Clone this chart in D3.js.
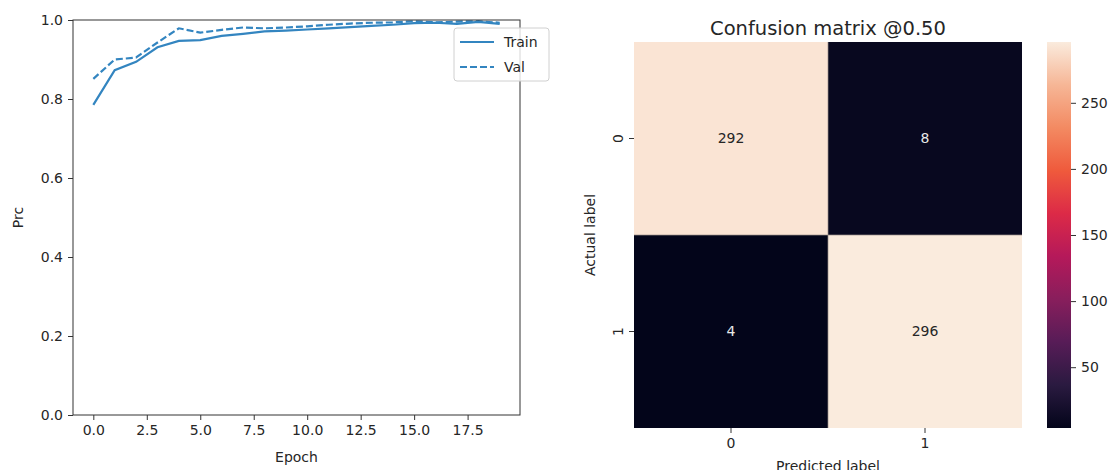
<!DOCTYPE html>
<html>
<head>
<meta charset="utf-8">
<script src="https://cdn.jsdelivr.net/npm/d3@7"></script>
<style>
  body { margin: 0; background: #fff; }
  svg { font-family: "DejaVu Sans", sans-serif; }
</style>
</head>
<body>
<div id="chart"></div>
<script>
// Precision per epoch
const epochs = d3.range(20);
const trainPrc = [0.785, 0.873, 0.894, 0.931, 0.947, 0.949, 0.960, 0.965, 0.971, 0.973,
                  0.976, 0.979, 0.982, 0.985, 0.988, 0.992, 0.993, 0.990, 0.995, 0.990];
const valPrc = [0.851, 0.900, 0.905, 0.943, 0.979, 0.968, 0.975, 0.981, 0.979, 0.981,
                0.984, 0.988, 0.991, 0.993, 0.994, 0.997, 0.994, 0.996, 0.997, 0.993];
const xTicks = [0, 2.5, 5, 7.5, 10, 12.5, 15, 17.5];
const yTicks = [0, 0.2, 0.4, 0.6, 0.8, 1.0];

// Confusion matrix
const classLabels = ['0', '1'];
const matrix = [[292, 8], [4, 296]];
const cbarTicks = [50, 100, 150, 200, 250];

const textColor = '#262626';
const lineColor = '#3385c0';

const svg = d3.select('#chart').append('svg')
    .attr('width', 1114)
    .attr('height', 470);

// ---- Left: precision curves ----
const left = { x0: 73, x1: 520, y0: 20, y1: 415 };

const x = d3.scaleLinear().domain([-0.95, 19.95]).range([left.x0, left.x1]);
const y = d3.scaleLinear().domain([0, 1]).range([left.y1, left.y0]);

const line = d3.line().x((d, i) => x(epochs[i])).y(d => y(d));

svg.append('path')
    .datum(trainPrc)
    .attr('fill', 'none')
    .attr('stroke', lineColor)
    .attr('stroke-width', 2.2)
    .attr('d', line);

svg.append('path')
    .datum(valPrc)
    .attr('fill', 'none')
    .attr('stroke', lineColor)
    .attr('stroke-width', 2.2)
    .attr('stroke-dasharray', '7,3')
    .attr('d', line);

// frame
svg.append('rect')
    .attr('x', left.x0).attr('y', left.y0)
    .attr('width', left.x1 - left.x0).attr('height', left.y1 - left.y0)
    .attr('fill', 'none').attr('stroke', '#333').attr('stroke-width', 1);

const xAxis = svg.append('g')
    .attr('transform', `translate(0,${left.y1})`)
    .call(d3.axisBottom(x).tickValues(xTicks).tickFormat(d3.format('.1f')).tickSize(5).tickPadding(5));
const yAxis = svg.append('g')
    .attr('transform', `translate(${left.x0},0)`)
    .call(d3.axisLeft(y).tickValues(yTicks).tickFormat(d3.format('.1f')).tickSize(5).tickPadding(5));

[xAxis, yAxis].forEach(a => {
    a.select('.domain').remove();
    a.selectAll('line').attr('stroke', '#333');
    a.selectAll('text').attr('fill', textColor).style('font-size', '14px').style('font-family', '"DejaVu Sans"');
});

svg.append('text')
    .attr('x', (left.x0 + left.x1) / 2).attr('y', 462)
    .attr('text-anchor', 'middle').attr('fill', textColor).style('font-size', '14px')
    .text('Epoch');

svg.append('text')
    .attr('transform', `translate(23,${(left.y0 + left.y1) / 2}) rotate(-90)`)
    .attr('text-anchor', 'middle').attr('fill', textColor).style('font-size', '14px')
    .text('Prc');

// legend
const lg = svg.append('g').attr('transform', 'translate(454,28)');
lg.append('rect')
    .attr('width', 95).attr('height', 53).attr('rx', 3)
    .attr('fill', '#fff').attr('fill-opacity', 0.8)
    .attr('stroke', '#d0d0d0');
[['Train', null], ['Val', '7,3']].forEach(([name, dash], i) => {
    const yy = 14 + i * 25;
    lg.append('line')
        .attr('x1', 6).attr('x2', 40).attr('y1', yy).attr('y2', yy)
        .attr('stroke', lineColor).attr('stroke-width', 2.2)
        .attr('stroke-dasharray', dash);
    lg.append('text')
        .attr('x', 50).attr('y', yy + 5)
        .attr('fill', textColor).style('font-size', '14px')
        .text(name);
});

// ---- Right: confusion matrix heatmap ----
const hm = { x0: 634, x1: 1022, y0: 42, y1: 428 };
const vmin = d3.min(matrix.flat());
const vmax = d3.max(matrix.flat());

const rocketStops = ['#03051a', '#2a1a40', '#571c57', '#881e5c', '#b5195a', '#dc2a47',
                     '#ef5a3c', '#f38a62', '#f6b696', '#faebdd'];
const rocket = d3.scaleLinear()
    .domain(rocketStops.map((d, i) => i / (rocketStops.length - 1)))
    .range(rocketStops)
    .interpolate(d3.interpolateRgb);
const color = v => rocket((v - vmin) / (vmax - vmin));

const hx = d3.scaleBand().domain(classLabels).range([hm.x0, hm.x1]);
const hy = d3.scaleBand().domain(classLabels).range([hm.y0, hm.y1]);

const cells = [];
matrix.forEach((row, r) => row.forEach((v, c) => cells.push({ r: classLabels[r], c: classLabels[c], v })));

svg.selectAll('.cell')
    .data(cells)
    .enter()
    .append('rect')
    .attr('class', 'cell')
    .attr('x', d => hx(d.c))
    .attr('y', d => hy(d.r))
    .attr('width', hx.bandwidth())
    .attr('height', hy.bandwidth())
    .attr('fill', d => color(d.v));

// thin separators between cells
svg.append('line')
    .attr('x1', hx('1')).attr('x2', hx('1')).attr('y1', hm.y0).attr('y2', hm.y1)
    .attr('stroke', '#9a8f8a').attr('stroke-width', 1).attr('stroke-opacity', 0.7);
svg.append('line')
    .attr('x1', hm.x0).attr('x2', hm.x1).attr('y1', hy('1')).attr('y2', hy('1'))
    .attr('stroke', '#9a8f8a').attr('stroke-width', 1).attr('stroke-opacity', 0.7);

svg.selectAll('.annot')
    .data(cells)
    .enter()
    .append('text')
    .attr('x', d => hx(d.c) + hx.bandwidth() / 2)
    .attr('y', d => hy(d.r) + hy.bandwidth() / 2)
    .attr('text-anchor', 'middle')
    .attr('dy', '0.35em')
    .attr('fill', d => (d.v - vmin) / (vmax - vmin) > 0.5 ? '#262626' : '#e8e8e8')
    .style('font-size', '14px')
    .text(d => d.v);

const hxAxis = svg.append('g')
    .attr('transform', `translate(0,${hm.y1})`)
    .call(d3.axisBottom(hx).tickSize(5).tickPadding(5));
const hyAxis = svg.append('g')
    .attr('transform', `translate(${hm.x0},0)`)
    .call(d3.axisLeft(hy).tickSize(5).tickPadding(5));
[hxAxis, hyAxis].forEach(a => {
    a.select('.domain').remove();
    a.selectAll('line').attr('stroke', '#333');
    a.selectAll('text').attr('fill', textColor).style('font-size', '14px').style('font-family', '"DejaVu Sans"');
});
// y tick labels rotated like seaborn
hyAxis.selectAll('.tick text')
    .attr('transform', 'translate(-16,0) rotate(-90)')
    .attr('x', 0).attr('y', 0).attr('dy', '0.35em')
    .style('text-anchor', 'middle');

svg.append('text')
    .attr('x', (hm.x0 + hm.x1) / 2).attr('y', 471)
    .attr('text-anchor', 'middle').attr('fill', textColor).style('font-size', '14px')
    .text('Predicted label');

svg.append('text')
    .attr('transform', `translate(595,${(hm.y0 + hm.y1) / 2}) rotate(-90)`)
    .attr('text-anchor', 'middle').attr('fill', textColor).style('font-size', '14px')
    .text('Actual label');

svg.append('text')
    .attr('x', (hm.x0 + hm.x1) / 2).attr('y', 35)
    .attr('text-anchor', 'middle').attr('fill', textColor).style('font-size', '19.5px')
    .text('Confusion matrix @0.50');

// colorbar
const cb = { x0: 1047, x1: 1071 };
const cy = d3.scaleLinear().domain([vmin, vmax]).range([hm.y1, hm.y0]);
const defs = svg.append('defs');
const grad = defs.append('linearGradient')
    .attr('id', 'cbar').attr('x1', 0).attr('y1', 1).attr('x2', 0).attr('y2', 0);
rocketStops.forEach((c, i) => {
    grad.append('stop').attr('offset', i / (rocketStops.length - 1)).attr('stop-color', c);
});
svg.append('rect')
    .attr('x', cb.x0).attr('y', hm.y0)
    .attr('width', cb.x1 - cb.x0).attr('height', hm.y1 - hm.y0)
    .attr('fill', 'url(#cbar)');

const cAxis = svg.append('g')
    .attr('transform', `translate(${cb.x1},0)`)
    .call(d3.axisRight(cy).tickValues(cbarTicks).tickSize(5).tickPadding(5));
cAxis.select('.domain').remove();
cAxis.selectAll('line').attr('stroke', '#333');
cAxis.selectAll('text').attr('fill', textColor).style('font-size', '14px').style('font-family', '"DejaVu Sans"');
</script>
</body>
</html>
